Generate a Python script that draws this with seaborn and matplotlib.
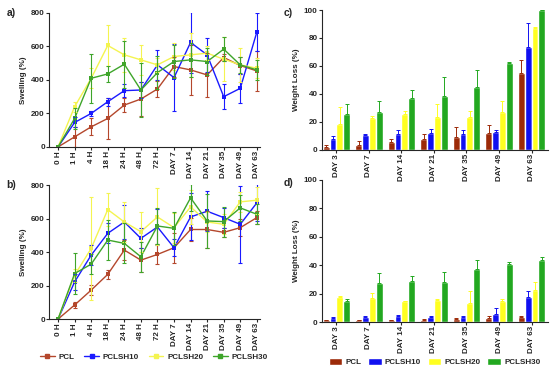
import numpy as np
import pandas as pd
import seaborn as sns
import matplotlib.pyplot as plt
from matplotlib.patches import Patch
from matplotlib.lines import Line2D

# -- * data
groups = ['PCL', 'PCLSH10', 'PCLSH20', 'PCLSH30']
times = ['0 H', '1 H', '4 H', '18 H', '24 H', '48 H', '72 H',
         'DAY 7', 'DAY 14', 'DAY 21', 'DAY 35', 'DAY 49', 'DAY 63']
days = ['DAY 3', 'DAY 7', 'DAY 14', 'DAY 21', 'DAY 35', 'DAY 49', 'DAY 63']

# panel a) swelling
a_pcl = [0, 60, 120, 170, 250, 286, 346, 480, 460, 430, 534, 486, 454]
a_pcl_sd = [0, 60, 50, 125, 40, 100, 50, 60, 150, 130, 20, 50, 120]
a_sh10 = [0, 146, 200, 270, 336, 340, 490, 414, 624, 550, 300, 350, 686]
a_sh10_sd = [0, 30, 15, 25, 40, 50, 90, 200, 180, 100, 75, 85, 115]
a_sh20 = [0, 240, 410, 606, 550, 520, 490, 540, 550, 560, 524, 490, 470]
a_sh20_sd = [0, 30, 60, 125, 100, 90, 40, 80, 130, 40, 130, 100, 60]
a_sh30 = [0, 170, 410, 436, 494, 340, 444, 510, 520, 510, 584, 490, 460]
a_sh30_sd = [0, 60, 145, 50, 140, 160, 100, 100, 100, 80, 70, 50, 60]

# panel b) swelling
b_pcl = [0, 84, 173, 267, 412, 352, 386, 426, 535, 535, 518, 546, 606]
b_pcl_sd = [0, 15, 30, 25, 60, 70, 60, 90, 70, 110, 25, 50, 40]
b_sh10 = [0, 222, 382, 512, 580, 482, 550, 426, 610, 644, 606, 566, 694]
b_sh10_sd = [0, 50, 60, 60, 100, 60, 110, 50, 140, 120, 60, 230, 110]
b_sh20 = [0, 262, 422, 654, 580, 522, 610, 546, 670, 580, 566, 700, 710]
b_sh20_sd = [0, 40, 310, 100, 120, 120, 170, 90, 100, 60, 60, 60, 80]
b_sh30 = [0, 272, 328, 472, 452, 372, 556, 542, 724, 586, 582, 664, 626]
b_sh30_sd = [0, 120, 60, 120, 120, 90, 110, 100, 80, 160, 90, 80, 60]

# panel c) weight loss
c_pcl = [2.4, 3.6, 5.5, 7.6, 9.5, 12.0, 54.8]
c_pcl_sd = [1.0, 3.0, 2.2, 3.4, 7.0, 5.5, 9.2]
c_sh10 = [7.9, 10.7, 11.0, 12.0, 11.2, 12.6, 73.3]
c_sh10_sd = [2.1, 0.6, 3.0, 3.0, 2.8, 1.4, 17.7]
c_sh20 = [18.6, 22.6, 25.7, 23.8, 23.8, 27.0, 87.4]
c_sh20_sd = [12.4, 1.5, 2.3, 9.2, 4.2, 8.0, 0.8]
c_sh30 = [25.5, 27.1, 37.1, 38.8, 45.2, 61.9, 100.0]
c_sh30_sd = [7.0, 7.9, 5.9, 13.2, 11.8, 1.1, 0.0]

# panel d) weight loss
d_pcl = [1.2, 1.3, 1.2, 1.5, 2.0, 2.8, 3.5]
d_pcl_sd = [0.3, 0.3, 0.3, 0.3, 0.8, 1.2, 0.7]
d_sh10 = [2.8, 3.5, 4.4, 3.8, 3.4, 6.0, 17.9]
d_sh10_sd = [0.4, 0.5, 0.2, 0.2, 0.6, 4.0, 4.1]
d_sh20 = [17.5, 16.7, 14.6, 15.6, 13.4, 14.6, 22.6]
d_sh20_sd = [0.5, 3.8, 0.4, 0.4, 8.6, 1.4, 5.4]
d_sh30 = [14.6, 27.5, 29.0, 28.3, 37.2, 40.5, 44.0]
d_sh30_sd = [1.9, 7.0, 3.5, 7.2, 6.8, 2.0, 2.0]

line_colors = {'PCL': '#b4472c', 'PCLSH10': '#1a1aff',
               'PCLSH20': '#f4f450', 'PCLSH30': '#3ea52a'}
bar_colors = {'PCL': '#9c2a08', 'PCLSH10': '#1010f0',
              'PCLSH20': '#ffff20', 'PCLSH30': '#22a820'}

FS = 5.8

sns.set_style('ticks')
plt.rcParams['font.family'] = ['Liberation Sans', 'DejaVu Sans']
plt.rcParams['font.weight'] = 'bold'
plt.rcParams['axes.labelweight'] = 'bold'

fig = plt.figure(figsize=(5.5, 3.71), dpi=100)
ax_a = fig.add_axes([0.089, 0.604, 0.384, 0.361])
ax_b = fig.add_axes([0.089, 0.140, 0.384, 0.361])
ax_c = fig.add_axes([0.585, 0.596, 0.411, 0.377])
ax_d = fig.add_axes([0.585, 0.132, 0.411, 0.383])
for ax in (ax_a, ax_b, ax_c, ax_d):
    ax.set_facecolor('none')


def swelling_panel(ax, vals, sds, tag):
    rows = []
    for g, v in zip(groups, vals):
        for t, y in zip(times, v):
            rows.append({'time': t, 'group': g, 'swelling': y})
    df = pd.DataFrame(rows)
    sns.lineplot(data=df, x='time', y='swelling', hue='group',
                 palette=line_colors, marker='s', markersize=3,
                 markeredgewidth=0, linewidth=1.0, legend=False, ax=ax,
                 sort=False)
    xs = np.arange(len(times))
    for g, v, s in zip(groups, vals, sds):
        ax.errorbar(xs, v, yerr=s, fmt='none', ecolor=line_colors[g],
                    elinewidth=0.8, capsize=1.5, capthick=0.8)
    ax.set_ylim(0, 800)
    ax.set_yticks([0, 200, 400, 600, 800])
    ax.set_xlim(-0.55, 12.2)
    ax.set_xlabel('')
    ax.set_ylabel('Swelling (%)', fontsize=FS, fontweight='bold', labelpad=3)
    ax.tick_params(axis='x', labelrotation=90, labelsize=FS, length=2, pad=1)
    ax.tick_params(axis='y', labelsize=FS, length=2, pad=1)
    sns.despine(ax=ax)
    ax.text(-0.2, 1.0, tag, transform=ax.transAxes, fontsize=7.5,
            fontweight='bold', va='center')


def weight_panel(ax, vals, sds, tag):
    rows = []
    for g, v in zip(groups, vals):
        for d, y in zip(days, v):
            rows.append({'day': d, 'group': g, 'loss': y})
    df = pd.DataFrame(rows)
    sns.barplot(data=df, x='day', y='loss', hue='group', palette=bar_colors,
                errorbar=None, legend=False, ax=ax, width=0.84, saturation=1)
    # error bars (upper only) on top of each bar
    for g_i, (g, v, s) in enumerate(zip(groups, vals, sds)):
        cont = ax.containers[g_i]
        xs = [p.get_x() + p.get_width() / 2 for p in cont.patches]
        ax.errorbar(xs, v, yerr=[np.zeros(len(s)), s], fmt='none',
                    ecolor=bar_colors[g], elinewidth=0.7, capsize=1.2,
                    capthick=0.7)
    ax.set_ylim(0, 100)
    ax.set_yticks([0, 20, 40, 60, 80, 100])
    ax.set_xlim(-0.45, 6.5)
    ax.set_xlabel('')
    ax.set_ylabel('Weight Loss (%)', fontsize=FS, fontweight='bold',
                  labelpad=3)
    ax.tick_params(axis='x', labelrotation=90, labelsize=FS, length=2, pad=1)
    ax.tick_params(axis='y', labelsize=FS, length=2, pad=1)
    sns.despine(ax=ax)
    ax.text(-0.17, 0.98, tag, transform=ax.transAxes, fontsize=7.5,
            fontweight='bold', va='center')


swelling_panel(ax_a, [a_pcl, a_sh10, a_sh20, a_sh30],
               [a_pcl_sd, a_sh10_sd, a_sh20_sd, a_sh30_sd], 'a)')
swelling_panel(ax_b, [b_pcl, b_sh10, b_sh20, b_sh30],
               [b_pcl_sd, b_sh10_sd, b_sh20_sd, b_sh30_sd], 'b)')
weight_panel(ax_c, [c_pcl, c_sh10, c_sh20, c_sh30],
             [c_pcl_sd, c_sh10_sd, c_sh20_sd, c_sh30_sd], 'c)')
weight_panel(ax_d, [d_pcl, d_sh10, d_sh20, d_sh30],
             [d_pcl_sd, d_sh10_sd, d_sh20_sd, d_sh30_sd], 'd)')

# -- * legends under each column
line_handles = [Line2D([0], [0], color=line_colors[g], marker='s',
                       markersize=3, linewidth=1.0) for g in groups]
fig.legend(line_handles, groups, loc='center', bbox_to_anchor=(0.28, 0.038),
           ncol=4, frameon=False, fontsize=FS, handlelength=1.8,
           columnspacing=1.2, handletextpad=0.5)

bar_handles = [Patch(facecolor=bar_colors[g]) for g in groups]
fig.legend(bar_handles, groups, loc='center', bbox_to_anchor=(0.79, 0.025),
           ncol=4, frameon=False, fontsize=FS, handlelength=1.7,
           handleheight=1.0, columnspacing=0.8, handletextpad=0.4,
           borderpad=0.2)

fig.savefig('out.png', dpi=100)
